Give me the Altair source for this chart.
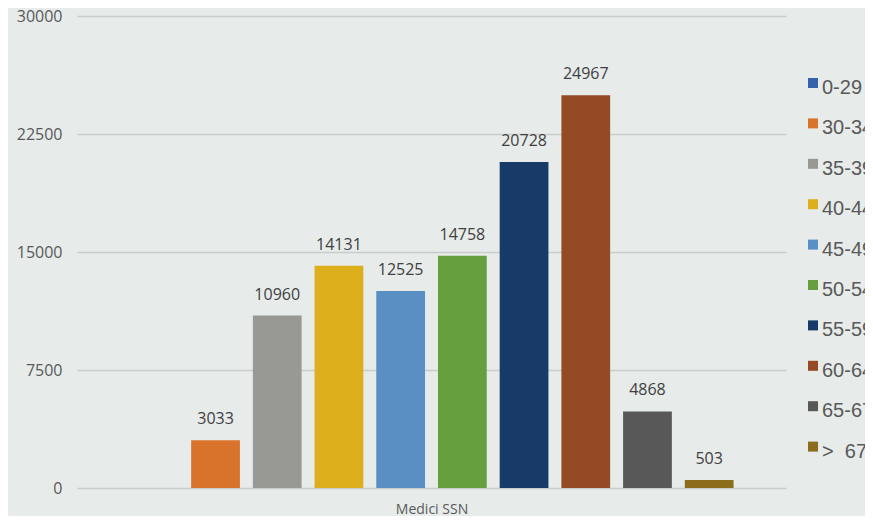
import altair as alt
import pandas as pd

ages = ["0-29", "30-34", "35-39", "40-44", "45-49", "50-54", "55-59", "60-64", "65-67",
        "\u00a0\u00a0>\u00a0\u00a067"]
values = [0, 3033, 10960, 14131, 12525, 14758, 20728, 24967, 4868, 503]
colors = ["#3562A8", "#D9732B", "#989995", "#DDAF1C", "#5A8FC3",
          "#659F3E", "#173A68", "#944A22", "#595859", "#8C6D1C"]
y_ticks = [0, 7500, 15000, 22500, 30000]

df = pd.DataFrame({"age": ages, "value": values})

x_enc = alt.X("age:N", sort=ages,
              scale=alt.Scale(paddingInner=0.21, paddingOuter=0.85),
              axis=alt.Axis(labels=False, ticks=False, domain=False, title="Medici SSN",
                            titleFont="Open Sans", titleFontSize=14, titleFontWeight="normal",
                            titleColor="#595959", titlePadding=14))
y_enc = alt.Y("value:Q", scale=alt.Scale(domain=[0, 30000], nice=False),
              axis=alt.Axis(values=y_ticks, format="d", title=None, domain=False, ticks=False,
                            labelFont="Open Sans", labelFontSize=16, labelColor="#595959",
                            labelPadding=15, gridColor="#C8CCCB", gridWidth=1.5))

bars = alt.Chart(df).mark_bar().encode(
    x=x_enc,
    y=y_enc,
    color=alt.Color("age:N", sort=ages,
                    scale=alt.Scale(domain=ages, range=colors),
                    legend=alt.Legend(title=None, orient="none", legendX=725, legendY=62,
                                      padding=0,
                                      symbolType="M-0.8,-2H1.2V0H-0.8Z", symbolSize=100,
                                      symbolStrokeWidth=0, symbolOpacity=1,
                                      labelFont="Liberation Sans", labelFontSize=20,
                                      labelBaseline="middle",
                                      labelColor="#595959", labelOffset=0, rowPadding=20.4)),
)

labels = alt.Chart(df).transform_filter("datum.value > 0").mark_text(
    font="Open Sans", fontSize=16, color="#404040", baseline="alphabetic", dy=-16
).encode(
    x=alt.X("age:N", sort=ages),
    y=alt.Y("value:Q"),
    text=alt.Text("value:Q", format="d"),
)

chart = (bars + labels).properties(
    width=709, height=472,
    background="#E7EBEA",
    autosize=alt.AutoSizeParams(type="none"),
    padding={"left": 69, "top": 8, "right": 79, "bottom": 28},
).configure_view(stroke=None)

chart.save("out.html", embed_options={"renderer": "svg", "actions": False})
